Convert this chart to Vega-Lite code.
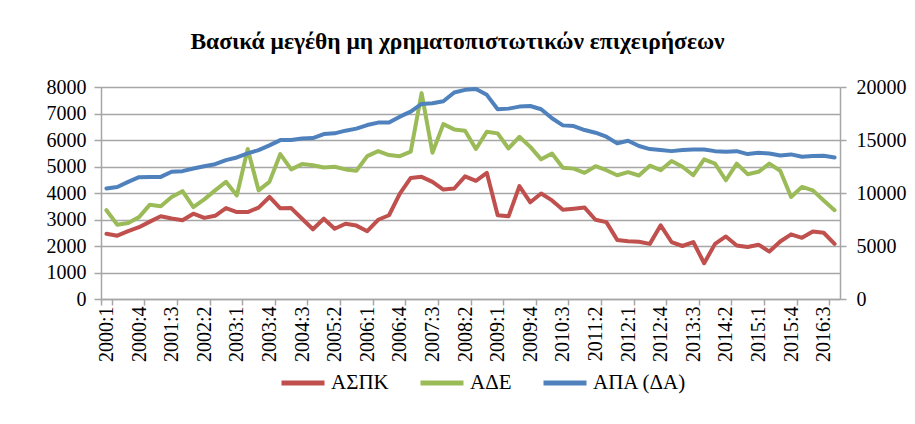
{
  "$schema": "https://vega.github.io/schema/vega-lite/v6.json",
  "width": 739,
  "height": 212,
  "autosize": "none",
  "padding": {"left": 101, "top": 87, "right": 75, "bottom": 125},
  "background": "white",
  "title": {
    "text": "Βασικά μεγέθη μη χρηματοπιστωτικών επιχειρήσεων",
    "font": "Liberation Serif, DejaVu Serif, serif",
    "fontSize": 23.5,
    "fontWeight": "bold",
    "color": "black",
    "anchor": "middle",
    "offset": 24,
    "dx": -13
  },
  "config": {
    "view": {"stroke": null},
    "font": "Liberation Serif, DejaVu Serif, serif"
  },
  "data": {
    "values": [
      {"q": "2000:1", "ΑΣΠΚ": 2460, "ΑΔΕ": 3350, "ΑΠΑ": 10420},
      {"q": "2000:2", "ΑΣΠΚ": 2390, "ΑΔΕ": 2800, "ΑΠΑ": 10570},
      {"q": "2000:3", "ΑΣΠΚ": 2560, "ΑΔΕ": 2870, "ΑΠΑ": 11050},
      {"q": "2000:4", "ΑΣΠΚ": 2710, "ΑΔΕ": 3090, "ΑΠΑ": 11490},
      {"q": "2001:1", "ΑΣΠΚ": 2920, "ΑΔΕ": 3560, "ΑΠΑ": 11520},
      {"q": "2001:2", "ΑΣΠΚ": 3120, "ΑΔΕ": 3500, "ΑΠΑ": 11520},
      {"q": "2001:3", "ΑΣΠΚ": 3040, "ΑΔΕ": 3850, "ΑΠΑ": 12000},
      {"q": "2001:4", "ΑΣΠΚ": 2970, "ΑΔΕ": 4070, "ΑΠΑ": 12060},
      {"q": "2002:1", "ΑΣΠΚ": 3220, "ΑΔΕ": 3470, "ΑΠΑ": 12310},
      {"q": "2002:2", "ΑΣΠΚ": 3060, "ΑΔΕ": 3760, "ΑΠΑ": 12530},
      {"q": "2002:3", "ΑΣΠΚ": 3140, "ΑΔΕ": 4100, "ΑΠΑ": 12720},
      {"q": "2002:4", "ΑΣΠΚ": 3430, "ΑΔΕ": 4420, "ΑΠΑ": 13100},
      {"q": "2003:1", "ΑΣΠΚ": 3280, "ΑΔΕ": 3910, "ΑΠΑ": 13350},
      {"q": "2003:2", "ΑΣΠΚ": 3280, "ΑΔΕ": 5660, "ΑΠΑ": 13730},
      {"q": "2003:3", "ΑΣΠΚ": 3450, "ΑΔΕ": 4100, "ΑΠΑ": 14050},
      {"q": "2003:4", "ΑΣΠΚ": 3850, "ΑΔΕ": 4420, "ΑΠΑ": 14490},
      {"q": "2004:1", "ΑΣΠΚ": 3420, "ΑΔΕ": 5470, "ΑΠΑ": 14990},
      {"q": "2004:2", "ΑΣΠΚ": 3430, "ΑΔΕ": 4890, "ΑΠΑ": 15000},
      {"q": "2004:3", "ΑΣΠΚ": 3030, "ΑΔΕ": 5090, "ΑΠΑ": 15150},
      {"q": "2004:4", "ΑΣΠΚ": 2630, "ΑΔΕ": 5050, "ΑΠΑ": 15180},
      {"q": "2005:1", "ΑΣΠΚ": 3030, "ΑΔΕ": 4960, "ΑΠΑ": 15560},
      {"q": "2005:2", "ΑΣΠΚ": 2650, "ΑΔΕ": 4990, "ΑΠΑ": 15630},
      {"q": "2005:3", "ΑΣΠΚ": 2840, "ΑΔΕ": 4890, "ΑΠΑ": 15880},
      {"q": "2005:4", "ΑΣΠΚ": 2770, "ΑΔΕ": 4840, "ΑΠΑ": 16070},
      {"q": "2006:1", "ΑΣΠΚ": 2560, "ΑΔΕ": 5390, "ΑΠΑ": 16410},
      {"q": "2006:2", "ΑΣΠΚ": 2990, "ΑΔΕ": 5580, "ΑΠΑ": 16640},
      {"q": "2006:3", "ΑΣΠΚ": 3160, "ΑΔΕ": 5430, "ΑΠΑ": 16640},
      {"q": "2006:4", "ΑΣΠΚ": 3980, "ΑΔΕ": 5390, "ΑΠΑ": 17200},
      {"q": "2007:1", "ΑΣΠΚ": 4570, "ΑΔΕ": 5560, "ΑΠΑ": 17680},
      {"q": "2007:2", "ΑΣΠΚ": 4610, "ΑΔΕ": 7770, "ΑΠΑ": 18400},
      {"q": "2007:3", "ΑΣΠΚ": 4420, "ΑΔΕ": 5520, "ΑΠΑ": 18470},
      {"q": "2007:4", "ΑΣΠΚ": 4130, "ΑΔΕ": 6600, "ΑΠΑ": 18660},
      {"q": "2008:1", "ΑΣΠΚ": 4170, "ΑΔΕ": 6400, "ΑΠΑ": 19480},
      {"q": "2008:2", "ΑΣΠΚ": 4630, "ΑΔΕ": 6350, "ΑΠΑ": 19730},
      {"q": "2008:3", "ΑΣΠΚ": 4460, "ΑΔΕ": 5660, "ΑΠΑ": 19810},
      {"q": "2008:4", "ΑΣΠΚ": 4760, "ΑΔΕ": 6310, "ΑΠΑ": 19260},
      {"q": "2009:1", "ΑΣΠΚ": 3160, "ΑΔΕ": 6250, "ΑΠΑ": 17900},
      {"q": "2009:2", "ΑΣΠΚ": 3120, "ΑΔΕ": 5680, "ΑΠΑ": 17960},
      {"q": "2009:3", "ΑΣΠΚ": 4260, "ΑΔΕ": 6120, "ΑΠΑ": 18150},
      {"q": "2009:4", "ΑΣΠΚ": 3650, "ΑΔΕ": 5740, "ΑΠΑ": 18210},
      {"q": "2010:1", "ΑΣΠΚ": 3980, "ΑΔΕ": 5270, "ΑΠΑ": 17900},
      {"q": "2010:2", "ΑΣΠΚ": 3720, "ΑΔΕ": 5490, "ΑΠΑ": 17050},
      {"q": "2010:3", "ΑΣΠΚ": 3370, "ΑΔΕ": 4950, "ΑΠΑ": 16380},
      {"q": "2010:4", "ΑΣΠΚ": 3410, "ΑΔΕ": 4920, "ΑΠΑ": 16320},
      {"q": "2011:1", "ΑΣΠΚ": 3450, "ΑΔΕ": 4760, "ΑΠΑ": 15940},
      {"q": "2011:2", "ΑΣΠΚ": 2990, "ΑΔΕ": 5010, "ΑΠΑ": 15690},
      {"q": "2011:3", "ΑΣΠΚ": 2900, "ΑΔΕ": 4860, "ΑΠΑ": 15310},
      {"q": "2011:4", "ΑΣΠΚ": 2230, "ΑΔΕ": 4670, "ΑΠΑ": 14680},
      {"q": "2012:1", "ΑΣΠΚ": 2180, "ΑΔΕ": 4790, "ΑΠΑ": 14930},
      {"q": "2012:2", "ΑΣΠΚ": 2160, "ΑΔΕ": 4660, "ΑΠΑ": 14430},
      {"q": "2012:3", "ΑΣΠΚ": 2080, "ΑΔΕ": 5030, "ΑΠΑ": 14140},
      {"q": "2012:4", "ΑΣΠΚ": 2780, "ΑΔΕ": 4860, "ΑΠΑ": 14050},
      {"q": "2013:1", "ΑΣΠΚ": 2150, "ΑΔΕ": 5210, "ΑΠΑ": 13950},
      {"q": "2013:2", "ΑΣΠΚ": 2000, "ΑΔΕ": 4990, "ΑΠΑ": 14050},
      {"q": "2013:3", "ΑΣΠΚ": 2150, "ΑΔΕ": 4670, "ΑΠΑ": 14110},
      {"q": "2013:4", "ΑΣΠΚ": 1350, "ΑΔΕ": 5270, "ΑΠΑ": 14110},
      {"q": "2014:1", "ΑΣΠΚ": 2080, "ΑΔΕ": 5110, "ΑΠΑ": 13950},
      {"q": "2014:2", "ΑΣΠΚ": 2360, "ΑΔΕ": 4480, "ΑΠΑ": 13890},
      {"q": "2014:3", "ΑΣΠΚ": 2020, "ΑΔΕ": 5110, "ΑΠΑ": 13950},
      {"q": "2014:4", "ΑΣΠΚ": 1960, "ΑΔΕ": 4710, "ΑΠΑ": 13670},
      {"q": "2015:1", "ΑΣΠΚ": 2050, "ΑΔΕ": 4800, "ΑΠΑ": 13790},
      {"q": "2015:2", "ΑΣΠΚ": 1790, "ΑΔΕ": 5110, "ΑΠΑ": 13730},
      {"q": "2015:3", "ΑΣΠΚ": 2170, "ΑΔΕ": 4840, "ΑΠΑ": 13540},
      {"q": "2015:4", "ΑΣΠΚ": 2440, "ΑΔΕ": 3850, "ΑΠΑ": 13640},
      {"q": "2016:1", "ΑΣΠΚ": 2310, "ΑΔΕ": 4230, "ΑΠΑ": 13420},
      {"q": "2016:2", "ΑΣΠΚ": 2550, "ΑΔΕ": 4100, "ΑΠΑ": 13480},
      {"q": "2016:3", "ΑΣΠΚ": 2500, "ΑΔΕ": 3720, "ΑΠΑ": 13510},
      {"q": "2016:4", "ΑΣΠΚ": 2080, "ΑΔΕ": 3350, "ΑΠΑ": 13350}
    ]
  },
  "encoding": {
    "x": {
      "field": "q",
      "type": "ordinal",
      "sort": null,
      "bandPosition": 0.5,
      "scale": {"type": "band", "paddingInner": 0, "paddingOuter": 0},
      "axis": {
        "title": null,
        "values": ["2000:1","2000:4","2001:3","2002:2","2003:1","2003:4","2004:3","2005:2","2006:1","2006:4","2007:3","2008:2","2009:1","2009:4","2010:3","2011:2","2012:1","2012:4","2013:3","2014:2","2015:1","2015:4","2016:3"],
        "labelAngle": -90,
        "labelFont": "Liberation Serif, DejaVu Serif, serif",
        "labelFontSize": 20,
        "labelColor": "black",
        "labelPadding": 1,
        "labelOverlap": false,
        "labelBound": false,
        "labelFlush": false,
        "tickBand": "extent",
        "tickSize": 6,
        "tickColor": "#A6A6A6",
        "tickWidth": 1.5,
        "domainColor": "#A6A6A6",
        "domainWidth": 1.5,
        "grid": false
      }
    }
  },
  "layer": [
    {
      "transform": [{"fold": ["ΑΣΠΚ", "ΑΔΕ"], "as": ["series", "value"]}],
      "mark": {"type": "line", "strokeWidth": 4, "strokeJoin": "round", "strokeCap": "round"},
      "encoding": {
        "y": {
          "field": "value",
          "type": "quantitative",
          "scale": {"domain": [0, 8000], "nice": false},
          "axis": {
            "title": null,
            "orient": "left",
            "values": [0,1000,2000,3000,4000,5000,6000,7000,8000],
            "format": "d",
            "labelFont": "Liberation Serif, DejaVu Serif, serif",
            "labelFontSize": 20,
            "labelColor": "black",
            "labelPadding": 8,
            "tickSize": 7,
            "tickColor": "#A6A6A6",
            "tickWidth": 1.5,
            "domainColor": "#A6A6A6",
            "domainWidth": 1.5,
            "grid": true,
            "gridColor": "#A6A6A6",
            "gridWidth": 1.5
          }
        },
        "color": {
          "field": "series",
          "type": "nominal",
          "scale": {
            "domain": ["ΑΣΠΚ", "ΑΔΕ", "ΑΠΑ (ΔΑ)"],
            "range": ["#C0504D", "#9BBB59", "#4F81BD"]
          },
          "legend": {
            "title": null,
            "orient": "none",
            "direction": "horizontal",
            "legendX": 178,
            "legendY": 272,
            "symbolType": "stroke",
            "symbolSize": 1849,
            "symbolStrokeWidth": 5,
            "labelFont": "Liberation Serif, DejaVu Serif, serif",
            "labelFontSize": 21,
            "labelColor": "black",
            "labelOffset": 4,
            "columnPadding": 21
          }
        }
      }
    },
    {
      "mark": {"type": "line", "strokeWidth": 4, "strokeJoin": "round", "strokeCap": "round"},
      "encoding": {
        "y": {
          "field": "ΑΠΑ",
          "type": "quantitative",
          "scale": {"domain": [0, 20000], "nice": false},
          "axis": {
            "title": null,
            "orient": "right",
            "values": [0,5000,10000,15000,20000],
            "format": "d",
            "labelFont": "Liberation Serif, DejaVu Serif, serif",
            "labelFontSize": 20,
            "labelColor": "black",
            "labelPadding": 10,
            "tickSize": 6,
            "tickColor": "#A6A6A6",
            "tickWidth": 1.5,
            "domainColor": "#A6A6A6",
            "domainWidth": 1.5,
            "grid": false
          }
        },
        "color": {"datum": "ΑΠΑ (ΔΑ)"}
      }
    }
  ],
  "resolve": {"scale": {"y": "independent"}}
}
